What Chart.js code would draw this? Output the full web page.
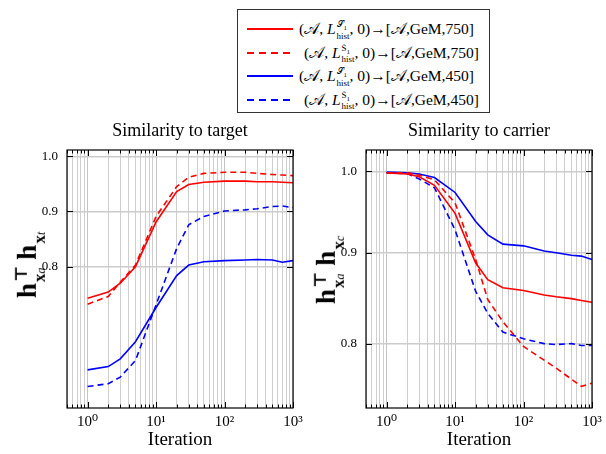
<!DOCTYPE html>
<html>
<head>
<meta charset="utf-8">
<script src="https://cdn.jsdelivr.net/npm/chart.js@4.4.1/dist/chart.umd.min.js"></script>
<style>
  body { margin: 0; background: #fff; }
  #wrap { position: relative; width: 606px; height: 454px; background: #fff; font-family: "Liberation Serif", "DejaVu Serif", serif; }
  canvas { position: absolute; }
  .title { position: absolute; font-size: 18px; transform: translateX(-50%); white-space: nowrap; }
  .ylab { position: absolute; font-size: 27px; font-weight: bold; white-space: nowrap; transform: translate(-50%, -50%) rotate(-90deg); }
  .ylab .st { display: inline-block; vertical-align: -0.5em; line-height: 1.05; font-size: 17px; margin: 0 6px 0 1px; }
  .ylab .st span { display: block; }
  .ylab i { font-weight: normal; font-size: 12px; }
  #legend { position: absolute; left: 237px; top: 9px; width: 253px; height: 104px; border: 1px solid #333; box-sizing: border-box; }
  .row { position: absolute; left: 0; height: 20px; white-space: nowrap; font-size: 15.5px; }
  .sample { position: absolute; left: 9px; top: 9px; width: 46px; height: 2px; }
  .txt { position: absolute; top: 0; line-height: 20px; }
  .txt .hs { display: inline-block; vertical-align: middle; line-height: 1; font-size: 9px; text-align: left; margin-left: 1px; }
  .txt .hs span { display: block; }
</style>
</head>
<body>
<div id="wrap">
  <canvas id="cT" width="306" height="314" style="left:0;top:140px;width:306px;height:314px"></canvas>
  <canvas id="cC" width="306" height="314" style="left:300px;top:140px;width:306px;height:314px"></canvas>
  <div class="title" style="left:180px;top:120px">Similarity to target</div>
  <div class="title" style="left:479px;top:120px">Similarity to carrier</div>
  <div class="ylab" style="left:30px;top:262px">h<span class="st"><span>⊤</span><span>x<i>a</i></span></span>h<span class="st"><span>&nbsp;</span><span>x<i>t</i></span></span></div>
  <div class="ylab" style="left:329px;top:267px">h<span class="st"><span>⊤</span><span>x<i>a</i></span></span>h<span class="st"><span>&nbsp;</span><span>x<i>c</i></span></span></div>
  <div id="legend"></div>
</div>
<script>
// iterations (log x axis)
const iterations = [1, 2, 3, 5, 10, 20, 30, 50, 100, 200, 300, 500, 700, 1000];

// similarity to target
const targetRed750 = [0.743, 0.754, 0.770, 0.800, 0.881, 0.936, 0.949, 0.953, 0.955, 0.955, 0.954, 0.954, 0.953, 0.952];
const targetRed750Dot = [0.732, 0.746, 0.772, 0.803, 0.891, 0.945, 0.962, 0.969, 0.971, 0.971, 0.969, 0.967, 0.966, 0.965];
const targetBlue450 = [0.613, 0.619, 0.633, 0.664, 0.726, 0.784, 0.803, 0.809, 0.811, 0.812, 0.813, 0.812, 0.808, 0.811];
const targetBlue450Dot = [0.583, 0.588, 0.600, 0.630, 0.731, 0.833, 0.876, 0.891, 0.901, 0.903, 0.905, 0.909, 0.910, 0.907];

// similarity to carrier
const carrierRed750 = [0.998, 0.9965, 0.993, 0.982, 0.947, 0.888, 0.869, 0.860, 0.857, 0.852, 0.850, 0.848, 0.846, 0.844];
const carrierRed750Dot = [0.998, 0.998, 0.995, 0.989, 0.960, 0.892, 0.847, 0.823, 0.797, 0.783, 0.775, 0.764, 0.757, 0.760];
const carrierBlue450 = [0.999, 0.998, 0.9965, 0.992, 0.973, 0.937, 0.921, 0.910, 0.908, 0.902, 0.900, 0.897, 0.896, 0.892];
const carrierBlue450Dot = [0.998, 0.997, 0.990, 0.979, 0.927, 0.856, 0.832, 0.812, 0.805, 0.800, 0.799, 0.800, 0.798, 0.798];

// ticks
const xTickValues = [1, 10, 100, 1000];
const xTickLabels = ["10⁰", "10¹", "10²", "10³"];
const yTickValues = [0.8, 0.9, 1.0];
const yTickLabels = ["0.8", "0.9", "1.0"];

const legendLabels = ["750", "750", "450", "450"];
const RED = "#ff0000";
const BLUE = "#0000ff";
const DASH = [6, 4];
const FONT = "'Liberation Serif', 'DejaVu Serif', serif";

// minor grid positions for the log axis (0.5 .. 1000)
const xGrid = [];
for (let d = 0.1; d <= 100; d *= 10) {
    for (let m = 1; m <= 9; m++) {
        const v = +(m * d).toPrecision(3);
        if (v >= 0.5) xGrid.push(v);
    }
}
xGrid.push(1000);

function pts(vals){
    return iterations.map((x, i) => ({ x: x, y: vals[i] }));
}

function line(vals, color, dashed){
    return {
        data: pts(vals),
        borderColor: color,
        borderWidth: 1.6,
        borderDash: dashed ? DASH : [],
        pointRadius: 0,
        fill: false,
        tension: 0,
    };
}

const isMajor = (v) => xTickValues.some(t => Math.abs(t - v) < 1e-9);

const frameTicks = {
    id: "frameTicks",
    afterDraw(chart){
        const { ctx, chartArea: a, scales } = chart;
        ctx.save();
        ctx.strokeStyle = "#000";
        ctx.lineWidth = 1;
        ctx.beginPath();
        scales.x.ticks.forEach(t => {
            const px = Math.round(scales.x.getPixelForValue(t.value)) + 0.5;
            const len = isMajor(t.value) ? 6 : 3.5;
            ctx.moveTo(px, a.top); ctx.lineTo(px, a.top + len);
            ctx.moveTo(px, a.bottom); ctx.lineTo(px, a.bottom - len);
        });
        scales.y.ticks.forEach(t => {
            const py = Math.round(scales.y.getPixelForValue(t.value)) + 0.5;
            ctx.moveTo(a.left, py); ctx.lineTo(a.left + 6, py);
            ctx.moveTo(a.right, py); ctx.lineTo(a.right - 6, py);
        });
        ctx.stroke();
        ctx.lineWidth = 1.2;
        ctx.strokeRect(a.left, a.top, a.right - a.left, a.bottom - a.top);
        ctx.restore();
    }
};

function makeChart(id, datasets, yType, yMin, yMax, leftW, rightPad){
    return new Chart(document.getElementById(id), {
        type: "line",
        data: { datasets: datasets },
        options: {
            responsive: false,
            animation: false,
            layout: { padding: { top: 10, right: rightPad, bottom: 0, left: 0 } },
            plugins: { legend: { display: false }, tooltip: { enabled: false } },
            scales: {
                x: {
                    type: "logarithmic",
                    min: 0.5,
                    max: 1000,
                    afterBuildTicks: (s) => { s.ticks = xGrid.map(v => ({ value: v })); },
                    afterFit: (s) => { s.height = 46; s.paddingLeft = 0; s.paddingRight = 0; },
                    ticks: {
                        autoSkip: false,
                        maxRotation: 0,
                        padding: 5,
                        color: "#000",
                        font: { family: FONT, size: 15 },
                        callback: (v) => {
                            const i = xTickValues.findIndex(t => Math.abs(t - v) < 1e-9);
                            return i >= 0 ? xTickLabels[i] : "";
                        }
                    },
                    grid: {
                        drawTicks: false,
                        color: (c) => isMajor(c.tick.value) ? "#c4c4c4" : "#cfcfcf",
                        lineWidth: 1,
                    },
                    border: { display: false },
                    title: {
                        display: true,
                        text: "Iteration",
                        color: "#000",
                        font: { family: FONT, size: 19 },
                        padding: { top: 0, bottom: 3 }
                    }
                },
                y: {
                    type: yType,
                    min: yMin,
                    max: yMax,
                    afterBuildTicks: (s) => { s.ticks = yTickValues.map(v => ({ value: v })); },
                    afterFit: (s) => { s.width = leftW; s.paddingTop = 0; s.paddingBottom = 0; },
                    ticks: {
                        padding: 9,
                        color: "#000",
                        font: { family: FONT, size: 13 },
                        callback: (v) => {
                            const i = yTickValues.findIndex(t => Math.abs(t - v) < 1e-9);
                            return i >= 0 ? yTickLabels[i] : "";
                        }
                    },
                    grid: { drawTicks: false, color: "#cccccc", lineWidth: 1.5 },
                    border: { display: false }
                }
            }
        },
        plugins: [frameTicks]
    });
}

makeChart("cT", [
    line(targetRed750, RED, false),
    line(targetRed750Dot, RED, true),
    line(targetBlue450, BLUE, false),
    line(targetBlue450Dot, BLUE, true),
], "linear", 0.544, 1.0114, 67, 13);

makeChart("cC", [
    line(carrierRed750, RED, false),
    line(carrierRed750Dot, RED, true),
    line(carrierBlue450, BLUE, false),
    line(carrierBlue450Dot, BLUE, true),
], "logarithmic", 0.736, 1.028, 66, 14);

// legend (html so the math can use sub/superscripts)
const legend = document.getElementById("legend");
const rowColors = [RED, RED, BLUE, BLUE];
const rowDashed = [false, true, false, true];
legendLabels.forEach((lab, i) => {
    const row = document.createElement("div");
    row.className = "row";
    row.style.top = (9 + i * 23.5) + "px";
    const c = rowColors[i];
    const bg = rowDashed[i]
        ? `repeating-linear-gradient(90deg, ${c} 0 7px, transparent 7px 12px)`
        : c;
    const sTop = rowDashed[i] ? "<span>Ṡ<sub style='font-size:7px'>1</sub></span>" : "<span>𝒮<sub style='font-size:7px'>1</sub></span>";
    row.innerHTML = `<div class="sample" style="background:${bg}"></div>` +
        `<div class="txt" style="left:${rowDashed[i] ? 66 : 61}px">(𝒜, <i>L</i><span class="hs">${sTop}<span>hist</span></span>, 0)→[𝒜,GeM,${lab}]</div>`;
    legend.appendChild(row);
});
</script>
</body>
</html>
